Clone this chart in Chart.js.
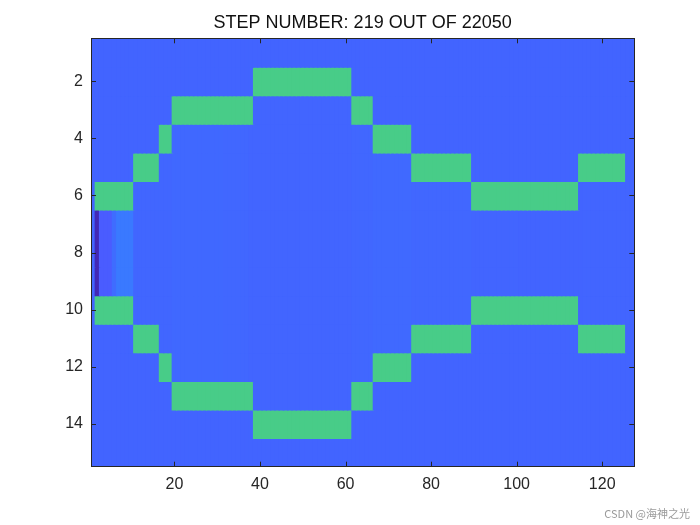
<!DOCTYPE html>
<html>
<head>
<meta charset="utf-8">
<script src="https://cdn.jsdelivr.net/npm/chart.js@4.4.1/dist/chart.umd.min.js"></script>
<style>
  body { margin: 0; background: #fff; }
  #wrap { position: relative; width: 700px; height: 525px; }
  #mark { position: absolute; right: 10px; bottom: 4px; font: 11px "Noto Sans CJK SC", "Liberation Sans", sans-serif; color: #9a9a9a; }
</style>
</head>
<body>
<div id="wrap">
  <canvas id="grid" width="700" height="525"></canvas>
  <div id="mark">CSDN @海神之光</div>
</div>
<script>
// grid size (columns x rows), image style: row 1 at the top
const nCols = 127;
const nRows = 15;

// wall cells (green) per row: [fromCol, toCol]
const wallRuns = {
    2:  [[39, 61]],
    3:  [[20, 38], [62, 66]],
    4:  [[17, 19], [67, 75]],
    5:  [[11, 16], [76, 89], [115, 125]],
    6:  [[2, 10], [90, 114]],
    10: [[2, 10], [90, 114]],
    11: [[11, 16], [76, 89], [115, 125]],
    12: [[17, 19], [67, 75]],
    13: [[20, 38], [62, 66]],
    14: [[39, 61]]
};

// fluid cells per row: [fromCol, toCol]
const fluidRuns = {
    3:  [[39, 61]],
    4:  [[20, 66]],
    5:  [[17, 75]],
    6:  [[11, 89], [115, 127]],
    7:  [[2, 127]],
    8:  [[2, 127]],
    9:  [[2, 127]],
    10: [[11, 89], [115, 127]],
    11: [[17, 75]],
    12: [[20, 66]],
    13: [[39, 61]]
};

// field value in the fluid, by column range: [fromCol, toCol, value]
const fluidProfile = [
    [2, 2, 0.00],
    [3, 5, 0.15],
    [6, 6, 0.36],
    [7, 10, 0.45],
    [11, 19, 0.315],
    [20, 31, 0.33],
    [32, 37, 0.32],
    [38, 61, 0.305],
    [62, 66, 0.32],
    [67, 75, 0.335],
    [76, 89, 0.32],
    [90, 100, 0.305],
    [101, 105, 0.30],
    [106, 115, 0.297],
    [116, 127, 0.305]
];
const outsideValue = 0.30;
const wallValue = 1.00;

const xTicks = [20, 40, 60, 80, 100, 120];
const yTicks = [2, 4, 6, 8, 10, 12, 14];

// parula-like colour stops
const cmap = [
    [0.00, [66, 40, 181]],
    [0.15, [74, 92, 255]],
    [0.30, [66, 100, 255]],
    [0.45, [58, 121, 255]],
    [1.00, [72, 204, 136]]
];

function colourOf(v) {
    for (let i = 1; i < cmap.length; i++) {
        if (v <= cmap[i][0]) {
            const [v0, c0] = cmap[i - 1];
            const [v1, c1] = cmap[i];
            const t = (v - v0) / (v1 - v0);
            const c = c0.map((a, k) => Math.round(a + (c1[k] - a) * t));
            return `rgb(${c[0]},${c[1]},${c[2]})`;
        }
    }
    const c = cmap[cmap.length - 1][1];
    return `rgb(${c[0]},${c[1]},${c[2]})`;
}

function inRuns(runs, c) {
    return (runs || []).some(([a, b]) => c >= a && c <= b);
}

function fluidValue(c) {
    const seg = fluidProfile.find(([a, b]) => c >= a && c <= b);
    return seg ? seg[2] : outsideValue;
}

// small overlap so neighbouring cells leave no anti-aliased seams
const seam = 0.03;

// one floating-bar dataset per row
const datasets = [];
for (let r = 1; r <= nRows; r++) {
    const data = [];
    const colours = [];
    for (let c = 1; c <= nCols; c++) {
        let v = outsideValue;
        if (inRuns(wallRuns[r], c)) v = wallValue;
        else if (inRuns(fluidRuns[r], c)) v = fluidValue(c);
        data.push({ x: c, y: [r - 0.5 - seam, r + 0.5 + seam] });
        colours.push(colourOf(v));
    }
    datasets.push({
        data: data,
        backgroundColor: colours,
        borderWidth: 0,
        inflateAmount: 0
    });
}

const axisColour = '#262626';
const fontFamily = '"Liberation Sans", Arial, Helvetica, sans-serif';

// box round the axes with inward ticks on all four sides
const boxPlugin = {
    id: 'box',
    afterDatasetsDraw(chart) {
        const { ctx, chartArea: a, scales } = chart;
        const len = 5;
        ctx.save();
        ctx.strokeStyle = axisColour;
        ctx.lineWidth = 1;
        ctx.beginPath();
        scales.x.ticks.forEach(t => {
            const px = Math.round(scales.x.getPixelForValue(t.value)) + 0.5;
            ctx.moveTo(px, a.bottom); ctx.lineTo(px, a.bottom - len);
            ctx.moveTo(px, a.top); ctx.lineTo(px, a.top + len);
        });
        scales.y.ticks.forEach(t => {
            const py = Math.round(scales.y.getPixelForValue(t.value)) + 0.5;
            ctx.moveTo(a.left, py); ctx.lineTo(a.left + len, py);
            ctx.moveTo(a.right, py); ctx.lineTo(a.right - len, py);
        });
        ctx.stroke();
        ctx.strokeRect(Math.round(a.left) + 0.5, Math.round(a.top) + 0.5,
            Math.round(a.right - a.left), Math.round(a.bottom - a.top));
        ctx.restore();
    }
};

new Chart(document.getElementById('grid'), {
    type: 'bar',
    data: { datasets: datasets },
    options: {
        responsive: false,
        animation: false,
        grouped: false,
        barPercentage: 1.3,
        categoryPercentage: 1,
        layout: { padding: { left: 0, right: 65.7, top: 0, bottom: 0 } },
        scales: {
            x: {
                type: 'linear',
                offset: false,
                min: 0.5,
                max: 127.5,
                grid: { display: false, drawTicks: false },
                border: { display: false },
                afterBuildTicks: s => { s.ticks = xTicks.map(v => ({ value: v })); },
                afterFit: s => { s.height = 58.3; },
                ticks: { color: axisColour, padding: 8, font: { family: fontFamily, size: 16 } }
            },
            y: {
                type: 'linear',
                reverse: true,
                min: 0.5,
                max: 15.5,
                grid: { display: false, drawTicks: false },
                border: { display: false },
                afterBuildTicks: s => { s.ticks = yTicks.map(v => ({ value: v })); },
                afterFit: s => { s.width = 91; },
                ticks: { color: axisColour, padding: 8, font: { family: fontFamily, size: 16 } }
            }
        },
        plugins: {
            legend: { display: false },
            tooltip: { enabled: false },
            title: {
                display: true,
                fullSize: false,
                text: 'STEP NUMBER: 219 OUT OF 22050',
                color: '#111',
                font: { family: fontFamily, size: 18, weight: 'normal' },
                padding: { top: 12, bottom: 4.7 }
            }
        }
    },
    plugins: [boxPlugin]
});
</script>
</body>
</html>
